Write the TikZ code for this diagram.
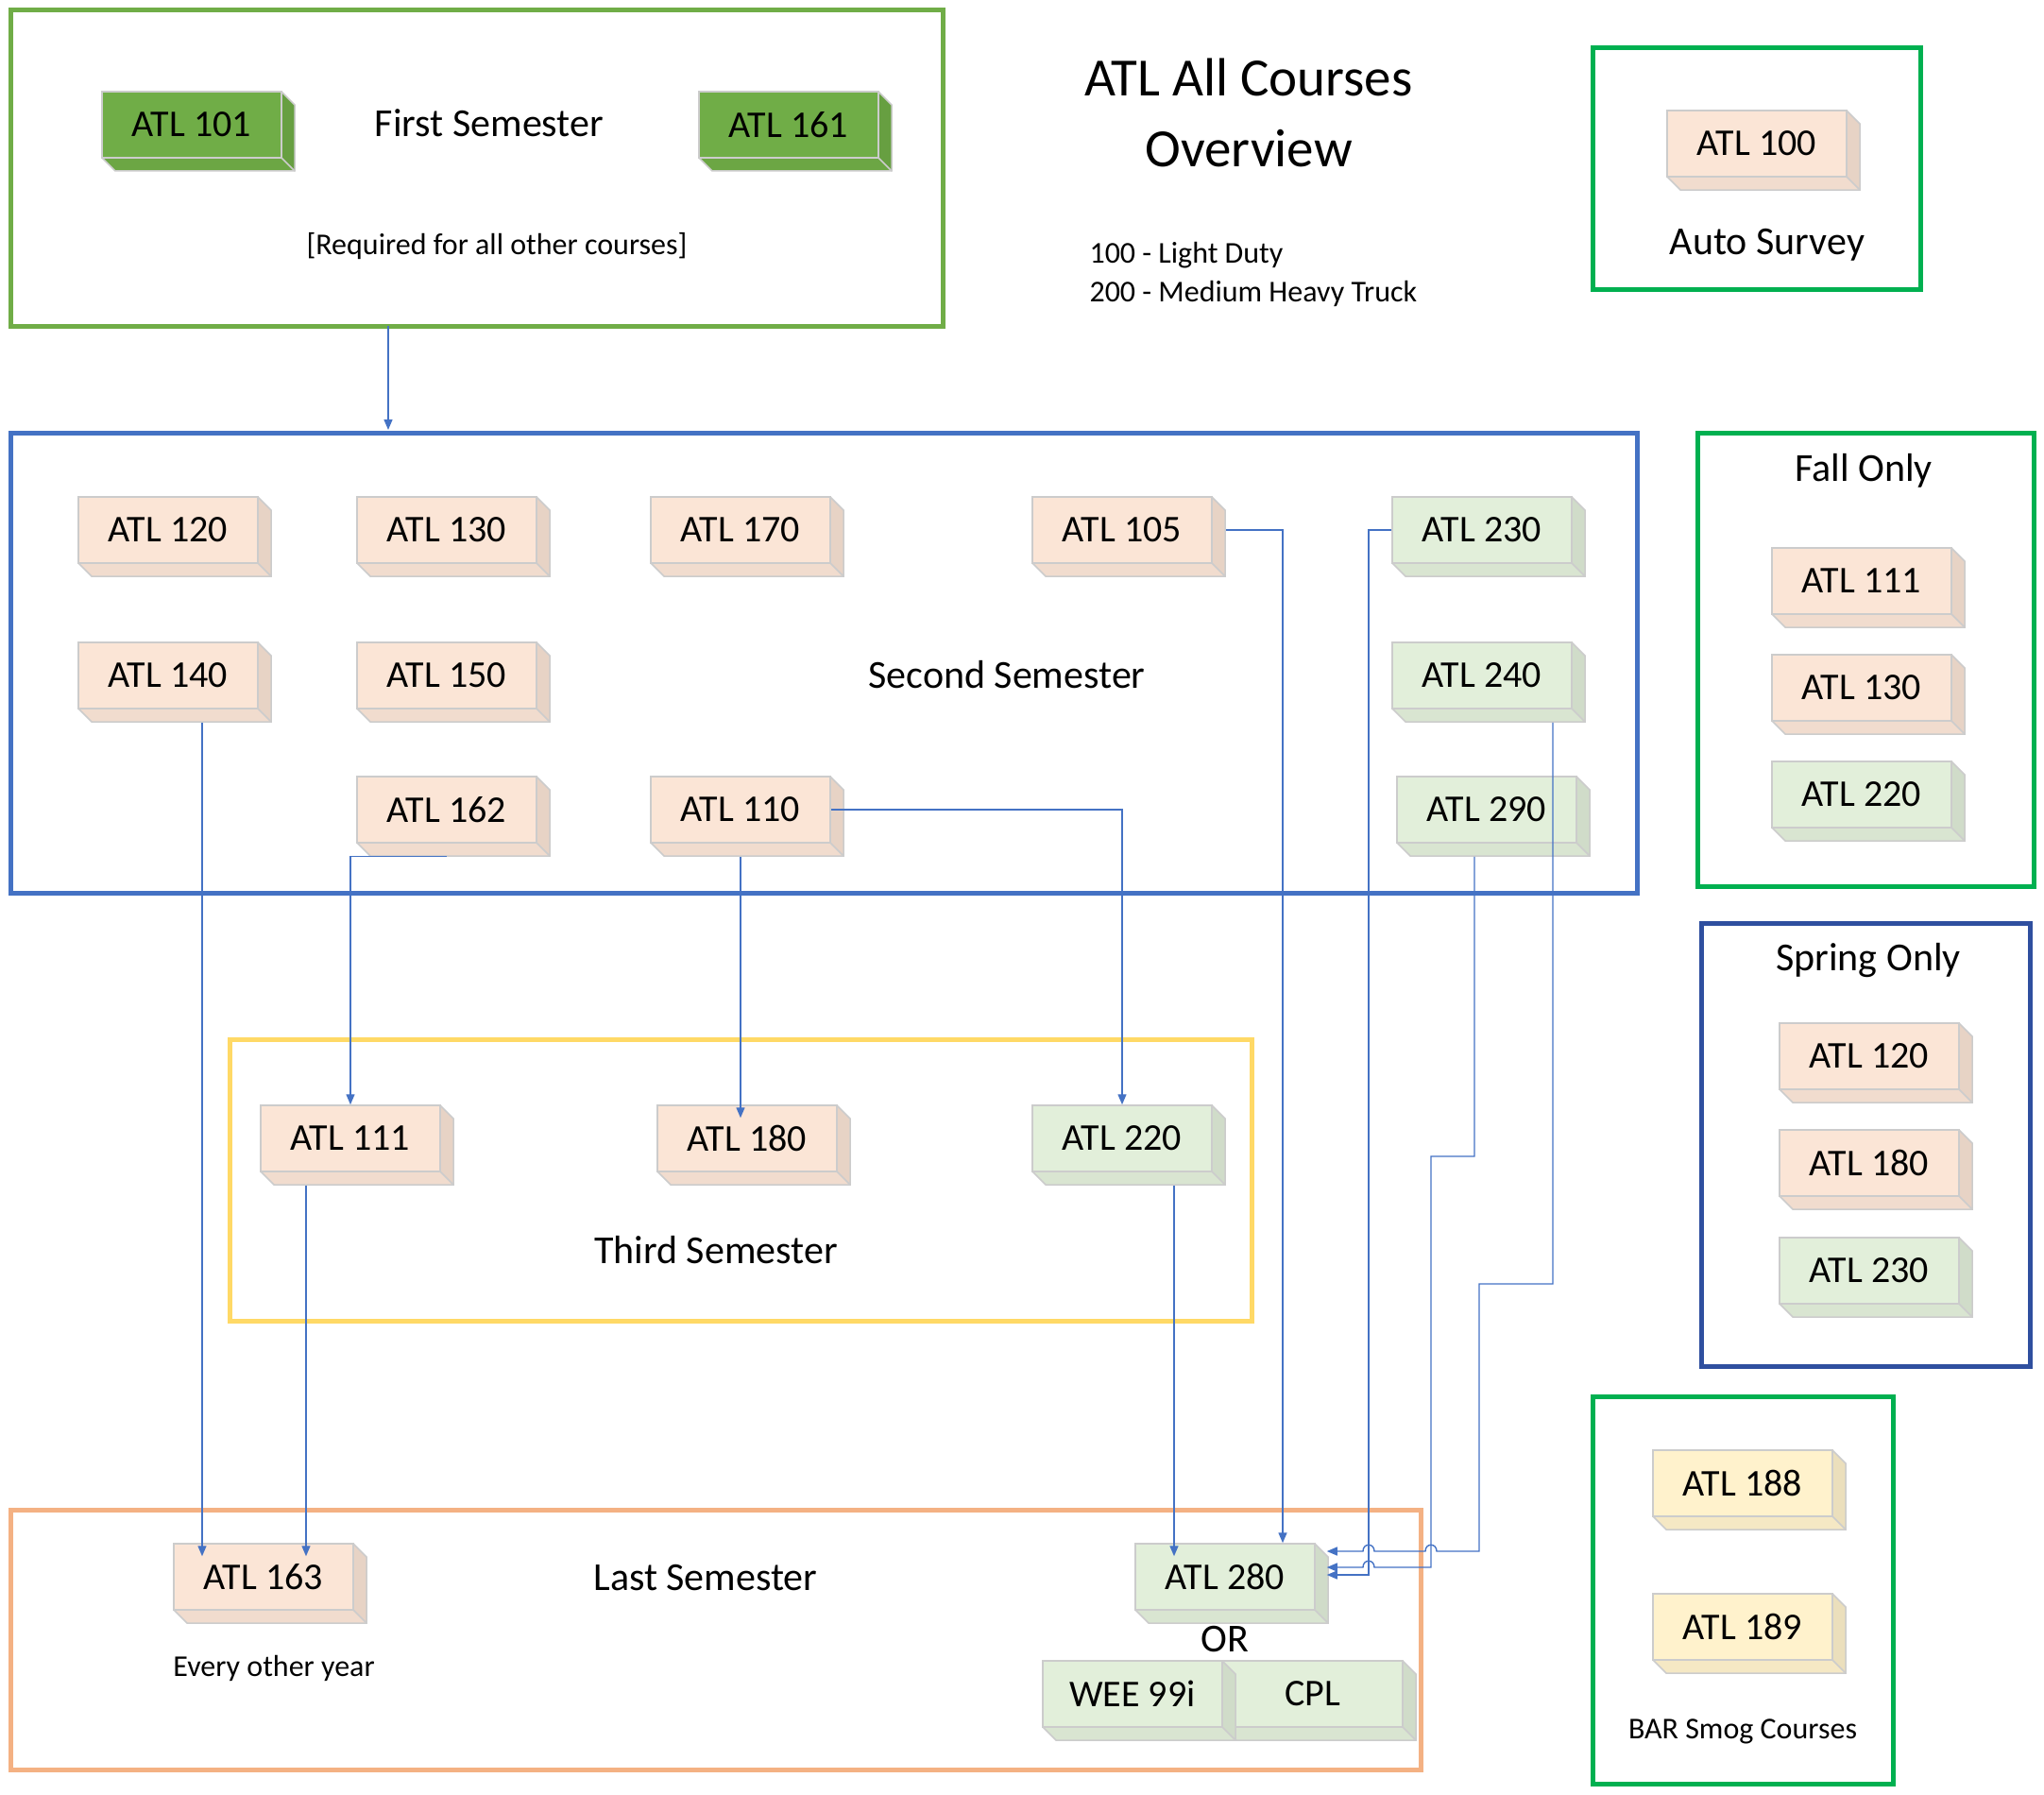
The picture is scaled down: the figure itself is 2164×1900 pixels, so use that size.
\documentclass[tikz,border=0pt]{standalone}
\usepackage{fontspec}
\setmainfont{Carlito}
\usetikzlibrary{arrows.meta,calc}
\definecolor{peach}{HTML}{FBE5D6}
\definecolor{lgreen}{HTML}{E2EFDA}
\definecolor{dgreen}{HTML}{70AD47}
\definecolor{lyellow}{HTML}{FFF2CC}
\definecolor{cblue}{HTML}{4472C4}
\definecolor{fgreen}{HTML}{00B050}
\definecolor{sblue}{HTML}{2F4F9F}
\definecolor{fyellow}{HTML}{FFD966}
\definecolor{forange}{HTML}{F4B183}
\tikzset{
 box/.style={draw=black!20,line width=1.5pt,minimum width=190pt,minimum height=70pt,inner sep=0pt,font=\fontsize{40}{46}\selectfont},
 frame/.style={line width=5pt},
 cn/.style={draw=cblue,line width=1.4pt,-{Triangle[length=11pt,width=9pt]}},
 lbl/.style={font=\fontsize{42}{48}\selectfont},
}
\newcommand\cbx[5]{%
 \fill[#4!92!black] (#2+190,#3)--(#2+204,#3+14)--(#2+204,#3+84)--(#2+190,#3+70)--cycle;
 \fill[#4!96!black] (#2,#3+70)--(#2+14,#3+84)--(#2+204,#3+84)--(#2+190,#3+70)--cycle;
 \draw[black!20,line width=1.5pt] (#2+190,#3)--(#2+204,#3+14)--(#2+204,#3+84)--(#2+14,#3+84)--(#2,#3+70);
 \draw[black!20,line width=1.5pt] (#2+190,#3+70)--(#2+204,#3+84);
 \node[box,fill=#4] (#1) at (#2+95,#3+35) {#5};}
\begin{document}
\begin{tikzpicture}[x=1pt,y=-1pt]
\useasboundingbox (0,0) rectangle (2164,1900);
% frames
\draw[frame,dgreen] (11,11) rectangle (998,345);
\draw[frame,fgreen] (1686,51) rectangle (2033,306);
\draw[frame,cblue] (11,458) rectangle (1733,945);
\draw[frame,fgreen] (1797,458) rectangle (2153,938);
\draw[frame,sblue] (1801,977) rectangle (2149,1446);
\draw[frame,fgreen] (1686,1478) rectangle (2004,1888);
\draw[frame,fyellow] (243,1100) rectangle (1325,1398);
\draw[frame,forange] (11,1598) rectangle (1504,1873);
% texts
\node[lbl] (t1) at (518,130) {First Semester};
\node[font=\fontsize{32}{36}\selectfont] (t2) at (526,261) {[Required for all other courses]};
\node[font=\fontsize{57}{75}\selectfont,align=center] (tt) at (1322,119) {ATL All Courses\\Overview};
\node[font=\fontsize{32}{41}\selectfont,align=left,anchor=west] (tl) at (1150,290) {100 - Light Duty\\200 - Medium Heavy Truck};
\node[lbl] (as) at (1871,259) {Auto Survey};
\node[lbl] (ss) at (1066,714) {Second Semester};
\node[lbl] (fo) at (1973,498) {Fall Only};
\node[lbl] (so) at (1978,1017) {Spring Only};
\node[font=\fontsize{32}{36}\selectfont] (bar) at (1845,1833) {BAR Smog Courses};
\node[lbl] (ts) at (758,1323) {Third Semester};
\node[lbl] (ls) at (747,1670) {Last Semester};
\node[font=\fontsize{32}{36}\selectfont] (eo) at (290,1766) {Every other year};
\node[lbl] (or) at (1297,1735) {OR};
% boxes
\cbx{a101}{108}{97}{dgreen}{ATL 101}
\cbx{a161}{740}{97}{dgreen}{ATL 161}
\cbx{a100}{1765}{117}{peach}{ATL 100}
\cbx{a120}{83}{526}{peach}{ATL 120}
\cbx{a130}{378}{526}{peach}{ATL 130}
\cbx{a170}{689}{526}{peach}{ATL 170}
\cbx{a105}{1093}{526}{peach}{ATL 105}
\cbx{a230}{1474}{526}{lgreen}{ATL 230}
\cbx{a140}{83}{680}{peach}{ATL 140}
\cbx{a150}{378}{680}{peach}{ATL 150}
\cbx{a240}{1474}{680}{lgreen}{ATL 240}
\cbx{a162}{378}{822}{peach}{ATL 162}
\cbx{a110}{689}{822}{peach}{ATL 110}
\cbx{a290}{1479}{822}{lgreen}{ATL 290}
\cbx{f111}{1876}{580}{peach}{ATL 111}
\cbx{f130}{1876}{693}{peach}{ATL 130}
\cbx{f220}{1876}{806}{lgreen}{ATL 220}
\cbx{s120}{1884}{1083}{peach}{ATL 120}
\cbx{s180}{1884}{1196}{peach}{ATL 180}
\cbx{s230}{1884}{1310}{lgreen}{ATL 230}
\cbx{b188}{1750}{1535}{lyellow}{ATL 188}
\cbx{b189}{1750}{1687}{lyellow}{ATL 189}
\cbx{t111}{276}{1170}{peach}{ATL 111}
\cbx{t180}{696}{1170}{peach}{ATL 180}
\cbx{t220}{1093}{1170}{lgreen}{ATL 220}
\cbx{a163}{184}{1634}{peach}{ATL 163}
\cbx{a280}{1202}{1634}{lgreen}{ATL 280}
\cbx{cpl}{1295}{1758}{lgreen}{CPL}
\cbx{wee}{1104}{1758}{lgreen}{WEE 99i}
% connectors
\coordinate (fb) at (411,345);
\coordinate (st) at (411,455);
\draw[cn] (fb) -- (st);
\draw[cn] ([xshift=36pt,yshift=-14pt]a140.south) -- ([xshift=36pt,yshift=-14pt]a140.south |- a163.north);
\draw[cn] ([yshift=-14pt]a162.south) -| (t111.north);
\draw[cn] ([yshift=-14pt]a110.south) -- ([yshift=-14pt]a110.south |- t180.north);
\draw[cn] (a110.east) -| (t220.north);
\draw[cn] ([xshift=-47pt,yshift=-14pt]t111.south) -- ([xshift=-47pt,yshift=-14pt]t111.south |- a163.north);
\draw[cn] ([xshift=55pt,yshift=-14pt]t220.south) -- ([xshift=55pt,yshift=-14pt]t220.south |- a280.north);
\draw[cn] ([xshift=14pt]a105.east) -| ([xshift=61pt]a280.north);
\draw[cn] (a230.west) -| (1449,1667) -- ([xshift=12pt,yshift=2pt]a280.east);
\draw[cn] ([xshift=-13pt,yshift=-14pt]a290.south) -- (1561,1224) -- (1515,1224) -- (1515,1659) -- (1455,1659) .. controls (1455,1650) and (1443,1650) .. (1443,1659) -- ([xshift=12pt,yshift=10pt]a280.east);
\draw[cn] ([xshift=75pt,yshift=-14pt]a240.south) -- (1644,1359) -- (1566,1359) -- (1566,1642) -- (1521,1642) .. controls (1521,1633) and (1509,1633) .. (1509,1642) -- (1455,1642) .. controls (1455,1633) and (1443,1633) .. (1443,1642) -- ([xshift=12pt,yshift=27pt]a280.east);
\end{tikzpicture}
\end{document}
